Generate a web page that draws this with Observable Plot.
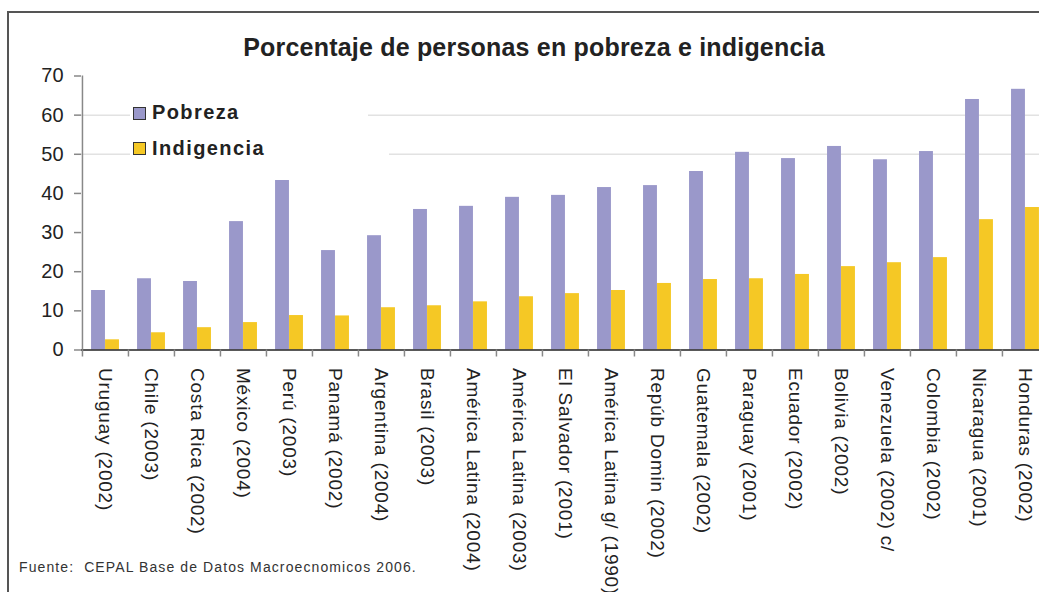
<!DOCTYPE html>
<html>
<head>
<meta charset="utf-8">
<script src="https://cdn.jsdelivr.net/npm/d3@7"></script>
<script src="https://cdn.jsdelivr.net/npm/@observablehq/plot@0.6"></script>
<style>
  html, body { margin: 0; padding: 0; background: #fff; overflow: hidden; }
  #page { position: relative; width: 1039px; height: 592px; overflow: hidden; background: #fff;
          font-family: "Liberation Sans", Arial, sans-serif; color: #222; }
  #frame { position: absolute; left: 7px; top: 11px; width: 1100px; height: 700px;
           border-left: 2px solid #555; border-top: 2px solid #555; }
  #chart { position: absolute; left: 0; top: 0; width: 1100px; }
  #chart svg { max-width: none !important; }
  #title { position: absolute; left: 534px; top: 35px; transform: translateX(-50%); white-space: nowrap;
           font-size: 25px; line-height: 25px; font-weight: bold; color: #222; letter-spacing: 0.2px; }
  .leg { position: absolute; left: 130px; height: 30px; background: #fff; }
  .sw { position: absolute; left: 3px; width: 11px; height: 11px; border: 1.5px solid #333; }
  .lt { position: absolute; left: 22px; font-size: 20px; line-height: 20px; font-weight: bold;
        letter-spacing: 1.4px; white-space: nowrap; color: #222; }
  #caption { position: absolute; left: 19px; top: 560px; font-size: 14px; line-height: 14px;
             letter-spacing: 1.1px; color: #333; white-space: nowrap; }
  svg g[aria-label="x-axis tick label"] text { letter-spacing: 0.8px; }
</style>
</head>
<body>
<div id="page">
  <div id="frame"></div>
  <div id="chart"></div>
  <div id="title">Porcentaje de personas en pobreza e indigencia</div>
  <div id="legend"></div>
  <div id="caption">Fuente:&nbsp; CEPAL Base de Datos Macroecnomicos 2006.</div>
</div>
<script>
const categories = [
  "Uruguay (2002)", "Chile (2003)", "Costa Rica (2002)", "México (2004)", "Perú (2003)",
  "Panamá (2002)", "Argentina (2004)", "Brasil (2003)", "América Latina (2004)",
  "América Latina (2003)", "El Salvador (2001)", "América Latina g/ (1990)",
  "Repúb Domin (2002)", "Guatemala (2002)", "Paraguay (2001)", "Ecuador (2002)",
  "Bolivia (2002)", "Venezuela (2002) c/", "Colombia (2002)", "Nicaragua (2001)", "Honduras (2002)"
];
const pobreza = [15.2, 18.2, 17.5, 32.8, 43.3, 25.4, 29.2, 35.9, 36.7, 39.0, 39.5, 41.5,
                 42.0, 45.6, 50.5, 48.9, 52.0, 48.6, 50.7, 64.0, 66.6];
const indigencia = [2.6, 4.4, 5.7, 7.0, 8.8, 8.7, 10.8, 11.3, 12.3, 13.6, 14.4, 15.2,
                    17.0, 18.0, 18.2, 19.3, 21.3, 22.3, 23.6, 33.3, 36.4];
const seriesNames = ["Pobreza", "Indigencia"];
const seriesColors = ["#9a98ca", "#f5c825"];
const yTicks = [0, 10, 20, 30, 40, 50, 60, 70];
const gridValues = [50, 60];

const rows = categories.map((c, i) => ({cat: c, pobreza: pobreza[i], indigencia: indigencia[i]}));

const W = 1049.1, ML = 81;
const step = (W - ML) / categories.length;
const bw = 14;

const chart = Plot.plot({
  width: W,
  height: 600,
  marginLeft: ML,
  marginRight: 0,
  marginTop: 75.5,
  marginBottom: 250.5,
  x: {domain: categories, padding: 0, axis: null},
  y: {domain: [0, 70], axis: null},
  style: {fontFamily: "'Liberation Sans', Arial, sans-serif", color: "#222", background: "transparent", overflow: "visible", maxWidth: "none"},
  marks: [
    Plot.ruleY(gridValues, {stroke: "#e2e2e2", strokeWidth: 1.5}),
    Plot.barY(rows, {x: "cat", y: "pobreza", fill: seriesColors[0], insetLeft: step / 2 - bw, insetRight: step / 2}),
    Plot.barY(rows, {x: "cat", y: "indigencia", fill: seriesColors[1], insetLeft: step / 2, insetRight: step / 2 - bw}),
    Plot.ruleY([0], {stroke: "#222", strokeWidth: 1.5}),
    Plot.ruleX(categories.slice(0, 1), {x: d => d, dx: -step / 2, y1: 0, y2: 70, stroke: "#888", strokeWidth: 1.5}),
    Plot.axisY({ticks: yTicks, tickSize: 7, tickPadding: 11, fontSize: 20, stroke: "#888", strokeWidth: 1.5, label: null, tickFormat: d => String(d)}),
    Plot.axisX({tickSize: 7, tickFormat: () => "", dx: -step / 2, stroke: "#888", strokeWidth: 1.5, label: null}),
    Plot.axisX({tickSize: 0, tickPadding: 18, tickRotate: 90, fontSize: 19, label: null, fill: "#222"})
  ]
});
document.getElementById("chart").appendChild(chart);

// legend
const legend = document.getElementById("legend");
const legRows = [
  {top: 100, width: 238, textTop: 102, swTop: 107},
  {top: 136, width: 259, textTop: 138, swTop: 142}
];
seriesNames.forEach((name, i) => {
  const r = legRows[i];
  const row = document.createElement("div");
  row.className = "leg";
  row.style.top = r.top + "px";
  row.style.width = r.width + "px";
  const sw = document.createElement("div");
  sw.className = "sw";
  sw.style.top = (r.swTop - r.top) + "px";
  sw.style.background = seriesColors[i];
  const t = document.createElement("div");
  t.className = "lt";
  t.style.top = (r.textTop - r.top) + "px";
  t.textContent = name;
  row.appendChild(sw);
  row.appendChild(t);
  legend.appendChild(row);
});
</script>
</body>
</html>
